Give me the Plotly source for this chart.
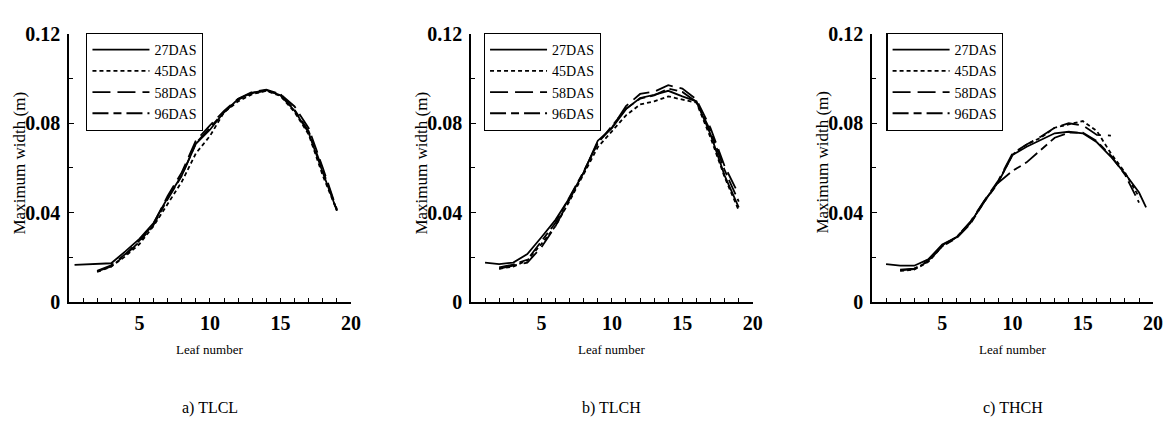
import plotly.graph_objects as go

# Leaf-by-leaf maximum width (m) at four sampling dates, three treatments
series_names = ["27DAS", "45DAS", "58DAS", "96DAS"]
panel_captions = ["a) TLCL", "b) TLCH", "c) THCH"]

# --- a) TLCL ---
tlcl_27_leaf = [0.4, 3, 4, 5, 6, 7, 8, 9, 10, 11, 12, 13, 14, 15, 16, 17, 18, 19]
tlcl_27_width = [0.0167, 0.0174, 0.0227, 0.0283, 0.0354, 0.0467, 0.0566, 0.0708, 0.0771,
                 0.0849, 0.0908, 0.0937, 0.0948, 0.0925, 0.0856, 0.0757, 0.0580, 0.0410]
tlcl_45_leaf = [2, 3, 4, 5, 6, 7, 8, 9, 10, 11, 12, 13, 14, 15, 16, 17, 18, 19]
tlcl_45_width = [0.0135, 0.0159, 0.0205, 0.0260, 0.0340, 0.0440, 0.0538, 0.0665, 0.0743,
                 0.0849, 0.0898, 0.0930, 0.0945, 0.0922, 0.0850, 0.0750, 0.0566, 0.0410]
tlcl_58_leaf = [2, 3, 4, 5, 6, 7, 8, 9, 10, 11, 12, 13, 14, 15, 16, 17, 18, 19]
tlcl_58_width = [0.0140, 0.0165, 0.0215, 0.0275, 0.0350, 0.0475, 0.0580, 0.0722, 0.0790,
                 0.0855, 0.0910, 0.0940, 0.0950, 0.0930, 0.0875, 0.0778, 0.0601, 0.0415]
tlcl_96_leaf = [2, 3, 4, 5, 6, 7, 8, 9, 10, 11, 12, 13, 14, 15, 16, 17, 18, 19]
tlcl_96_width = [0.0138, 0.0160, 0.0210, 0.0270, 0.0345, 0.0460, 0.0565, 0.0710, 0.0780,
                 0.0850, 0.0905, 0.0935, 0.0945, 0.0930, 0.0860, 0.0765, 0.0590, 0.0410]

# --- b) TLCH ---
tlch_27_leaf = [1, 2, 3, 4, 5, 6, 7, 8, 9, 10, 11, 12, 13, 14, 15, 16, 17, 18, 19]
tlch_27_width = [0.0177, 0.0170, 0.0177, 0.0215, 0.0290, 0.0368, 0.0467, 0.0580, 0.0722, 0.0778,
                 0.0863, 0.0913, 0.0927, 0.0945, 0.0920, 0.0898, 0.0750, 0.0566, 0.0424]
tlch_45_leaf = [2, 3, 4, 5, 6, 7, 8, 9, 10, 11, 12, 13, 14, 15, 16, 17, 18, 19]
tlch_45_width = [0.0149, 0.0159, 0.0187, 0.0260, 0.0340, 0.0453, 0.0573, 0.0693, 0.0764,
                 0.0835, 0.0884, 0.0898, 0.0920, 0.0906, 0.0892, 0.0736, 0.0559, 0.0410]
tlch_58_leaf = [2, 3, 4, 5, 6, 7, 8, 9, 10, 11, 12, 13, 14, 15, 16, 17, 18, 19]
tlch_58_width = [0.0150, 0.0165, 0.0177, 0.0246, 0.0340, 0.0460, 0.0580, 0.0715, 0.0780,
                 0.0877, 0.0931, 0.0941, 0.0970, 0.0955, 0.0906, 0.0778, 0.0608, 0.0481]
tlch_96_leaf = [2, 3, 4, 5, 6, 7, 8, 9, 10, 11, 12, 13, 14, 15, 16, 17, 18, 19]
tlch_96_width = [0.0155, 0.0168, 0.0190, 0.0270, 0.0355, 0.0470, 0.0585, 0.0710, 0.0785,
                 0.0865, 0.0910, 0.0925, 0.0955, 0.0940, 0.0895, 0.0765, 0.0590, 0.0450]

# --- c) THCH ---
thch_27_leaf = [1, 2, 3, 4, 5, 6, 7, 8, 9, 10, 11, 12, 13, 14, 15, 16, 17, 18, 19, 19.5]
thch_27_width = [0.0170, 0.0163, 0.0163, 0.0191, 0.0258, 0.0290, 0.0354, 0.0453, 0.0538, 0.0658,
                 0.0695, 0.0725, 0.0755, 0.0762, 0.0755, 0.0715, 0.0650, 0.0575, 0.0490, 0.0424]
thch_45_leaf = [2, 3, 4, 5, 6, 7, 8, 9, 10, 11, 12, 13, 14, 15, 16, 17, 18, 19]
thch_45_width = [0.0140, 0.0145, 0.0180, 0.0250, 0.0290, 0.0355, 0.0450, 0.0540, 0.0660,
                 0.0705, 0.0735, 0.0780, 0.0795, 0.0810, 0.0765, 0.0665, 0.0580, 0.0470]
thch_58_leaf = [2, 3, 4, 5, 6, 7, 8, 9, 10, 11, 12, 13, 14, 15, 16, 17]
thch_58_width = [0.0145, 0.0150, 0.0185, 0.0255, 0.0290, 0.0360, 0.0455, 0.0545, 0.0665,
                 0.0705, 0.0740, 0.0780, 0.0800, 0.0790, 0.0748, 0.0745]
thch_96_leaf = [2, 3, 4, 5, 6, 7, 8, 9, 10, 11, 12, 13, 14, 15, 16, 17, 18, 19]
thch_96_width = [0.0142, 0.0148, 0.0182, 0.0250, 0.0285, 0.0350, 0.0450, 0.0535, 0.0587,
                 0.0625, 0.0680, 0.0735, 0.0758, 0.0758, 0.0720, 0.0655, 0.0570, 0.0445]

panels = [
    [(tlcl_27_leaf, tlcl_27_width), (tlcl_45_leaf, tlcl_45_width),
     (tlcl_58_leaf, tlcl_58_width), (tlcl_96_leaf, tlcl_96_width)],
    [(tlch_27_leaf, tlch_27_width), (tlch_45_leaf, tlch_45_width),
     (tlch_58_leaf, tlch_58_width), (tlch_96_leaf, tlch_96_width)],
    [(thch_27_leaf, thch_27_width), (thch_45_leaf, thch_45_width),
     (thch_58_leaf, thch_58_width), (thch_96_leaf, thch_96_width)],
]

x_ticks = [5, 10, 15, 20]
y_ticks = [0, 0.04, 0.08, 0.12]
y_tick_text = ["0", "0.04", "0.08", "0.12"]

dash_styles = ["solid", "4px,3px", "18px,7px", "16px,5px,8px,5px"]

W, H = 1174, 434
x_domains = [(69.5 / W, 354 / W), (475 / W, 759.3 / W), (879.5 / W, 1163 / W)]
y_domain = (1 - 306.7 / H, 1 - 24 / H)
legend_left_px = [87, 488, 894]

SERIF = "Liberation Serif"
tick_font = dict(family=SERIF, size=20, color="black", weight="bold")

fig = go.Figure()
legend_ids = ["legend", "legend2", "legend3"]

for p, series in enumerate(panels):
    ax = "" if p == 0 else str(p + 1)
    for s, (leaf, width) in enumerate(series):
        fig.add_trace(go.Scatter(
            x=leaf, y=width, mode="lines", name=series_names[s],
            line=dict(color="black", width=1.8, dash=dash_styles[s]),
            xaxis="x" + ax, yaxis="y" + ax, legend=legend_ids[p],
        ))

layout = dict(
    width=W, height=H, margin=dict(l=0, r=0, t=0, b=0),
    paper_bgcolor="white", plot_bgcolor="white",
    font=dict(family=SERIF, color="black"),
    annotations=[],
)

for p in range(3):
    ax = "" if p == 0 else str(p + 1)
    layout["xaxis" + ax] = dict(
        domain=list(x_domains[p]), range=[0, 20], anchor="y" + ax,
        tickvals=x_ticks, ticks="inside", ticklen=4, tickwidth=1.2, tickcolor="black",
        minor=dict(dtick=1, tick0=0, ticks="inside", ticklen=4, tickwidth=1.2, tickcolor="black"),
        showline=True, linecolor="black", linewidth=1.5, showgrid=False, zeroline=False,
        tickfont=tick_font, ticklabelstandoff=2,
    )
    layout["yaxis" + ax] = dict(
        domain=list(y_domain), range=[0, 0.12], anchor="x" + ax,
        tickvals=y_ticks, ticktext=y_tick_text, ticks="inside", ticklen=5, tickwidth=1.2,
        tickcolor="black",
        minor=dict(dtick=0.02, tick0=0, ticks="inside", ticklen=4, tickwidth=1.2, tickcolor="black"),
        showline=True, linecolor="black", linewidth=1.5, showgrid=False, zeroline=False,
        tickfont=tick_font, ticklabelstandoff=3,
    )
    layout[legend_ids[p]] = dict(
        x=legend_left_px[p] / W, y=1 - 23 / H, xanchor="left", yanchor="top",
        bordercolor="black", borderwidth=1.2, bgcolor="white",
        font=dict(family=SERIF, size=14, color="black"), itemwidth=57, tracegroupgap=0,
    )
    xd = "x" + ax + " domain"
    yd = "y" + ax + " domain"
    layout["annotations"] += [
        dict(text="Maximum width (m)", textangle=-90, showarrow=False,
             xref=xd, yref=yd, x=0, y=0.52, xshift=-49, xanchor="center", yanchor="middle",
             font=dict(family=SERIF, size=17, color="black")),
        dict(text="Leaf number", showarrow=False, xref=xd, yref="paper",
             x=0.5, y=1 - 357 / H, xanchor="center", yanchor="middle",
             font=dict(family=SERIF, size=13, color="black")),
        dict(text=panel_captions[p], showarrow=False, xref=xd, yref="paper",
             x=0.5, y=1 - 418 / H, xanchor="center", yanchor="middle",
             font=dict(family=SERIF, size=16, color="black")),
    ]

fig.update_layout(**layout)
fig.write_html("out.html")
